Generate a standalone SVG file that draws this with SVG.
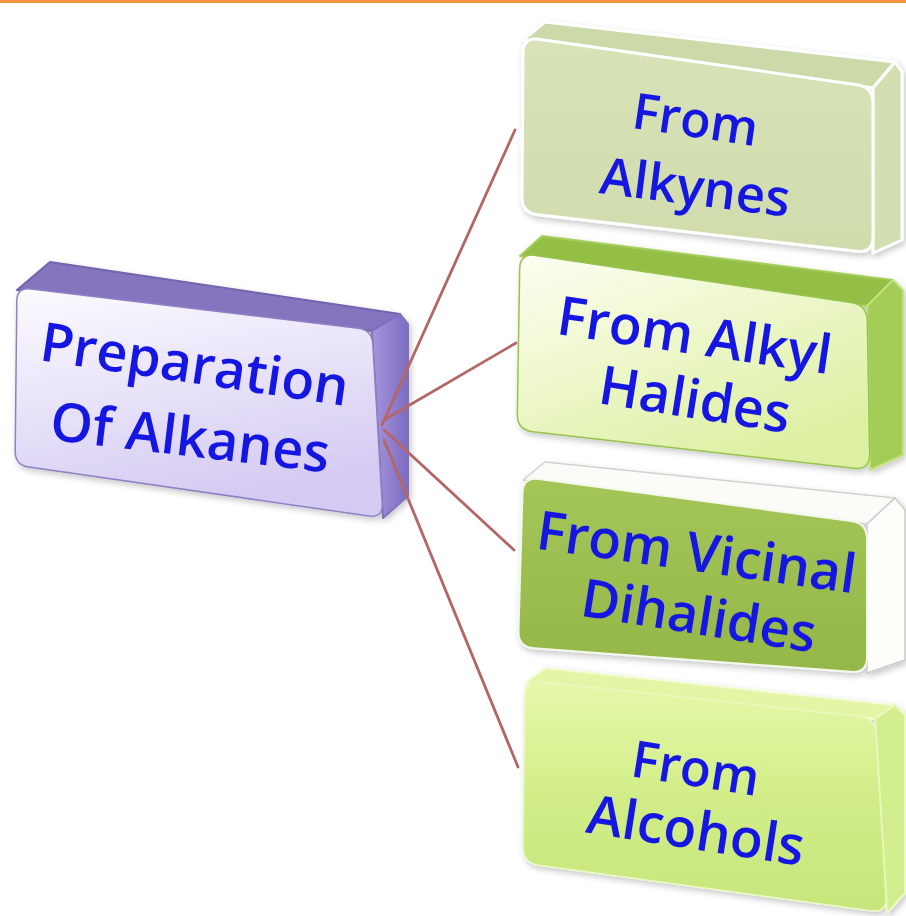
<svg xmlns="http://www.w3.org/2000/svg" width="906" height="916" viewBox="0 0 906 916">
<defs>
<style>
.t{font-family:"Open Sans","Liberation Sans",sans-serif;font-weight:600;fill:#1616e2;text-anchor:middle;}
.conn{stroke:#b46666;stroke-width:2.8;fill:none;stroke-linecap:round;}
.edge{stroke-linejoin:round;}
</style>
<filter id="sh" x="-10%" y="-10%" width="120%" height="130%">
<feDropShadow dx="2" dy="3" stdDeviation="3" flood-color="#000" flood-opacity="0.22"/>
</filter>
<linearGradient id="gC" x1="0" y1="0" x2="0.3" y2="1">
<stop offset="0" stop-color="#fcfbff"/><stop offset="1" stop-color="#d5cbf2"/>
</linearGradient>
<linearGradient id="gCs" x1="0" y1="0" x2="1" y2="0">
<stop offset="0" stop-color="#a596de"/><stop offset="1" stop-color="#7d6bc0"/>
</linearGradient>
<linearGradient id="g1" x1="0" y1="0" x2="0" y2="1">
<stop offset="0" stop-color="#d8e3b8"/><stop offset="1" stop-color="#d0dcac"/>
</linearGradient>
<linearGradient id="g2" x1="0" y1="0" x2="0.6" y2="1">
<stop offset="0" stop-color="#fdfef2"/><stop offset="1" stop-color="#ddf0a2"/>
</linearGradient>
<linearGradient id="g3" x1="0" y1="0" x2="0" y2="1">
<stop offset="0" stop-color="#a4c659"/><stop offset="1" stop-color="#95b748"/>
</linearGradient>
<linearGradient id="g4" x1="0" y1="0" x2="0" y2="1">
<stop offset="0" stop-color="#e6f8aa"/><stop offset="0.5" stop-color="#d2ed88"/><stop offset="1" stop-color="#c6e67b"/>
</linearGradient>
</defs>
<rect x="0" y="0" width="906" height="916" fill="#ffffff"/>
<rect x="0" y="0" width="906" height="3" fill="#f5943f"/>

<g id="node-center" filter="url(#sh)">
<polygon class="edge" points="17,290 50,262 400,314 372,331" fill="#8575be" stroke="#7464b0" stroke-width="2"/>
<polygon class="edge" points="372,331 400,314 408,324 408,496 383,518" fill="url(#gCs)" stroke="#8070bc" stroke-width="2"/>
<path d="M31,289 L358,328.3 Q372,330 372.8,344 L382.2,504 Q383,518 369,516 L29,467 Q15,465 15.2,451 L16.8,301 Q17,287 31,289 Z" fill="url(#gC)" stroke="#8f80c6" stroke-width="1.5"/>
<g transform="rotate(8.5 192 383)"><text class="t" x="192" y="383" font-size="54">Preparation</text></g>
<g transform="rotate(6.8 188 456)"><text class="t" x="188" y="456" font-size="54">Of Alkanes</text></g>
</g>

<g id="node-alkynes" filter="url(#sh)">
<polygon class="edge" points="523,40 545,22 895,62 873,88" fill="#ccd9a8" stroke="#ffffff" stroke-width="3"/>
<polygon class="edge" points="873,88 895,62 902,72 902,240 873,253" fill="#d3dfb1" stroke="#ffffff" stroke-width="3"/>
<path d="M539,39.3 L857,84.7 Q873,87 873,103 L873,237 Q873,253 857,251.2 L538,214.8 Q522,213 522,197 L523,53 Q523,37 539,39.3 Z" fill="url(#g1)" stroke="#ffffff" stroke-width="3"/>
<g transform="rotate(8.5 693 137)"><text class="t" x="693" y="137" font-size="50">From</text></g>
<g transform="rotate(7.2 693 205)"><text class="t" x="693" y="205" font-size="51">Alkynes</text></g>
</g>

<g id="node-alkyl-halides" filter="url(#sh)">
<polygon class="edge" points="520,256 542,236 893,280 867,306" fill="#94bf46" stroke="#a6cf5c" stroke-width="2"/>
<polygon class="edge" points="867,306 893,280 903,290 903,455 870,470" fill="#a3cd56" stroke="#c2e27e" stroke-width="2"/>
<path d="M536,255.4 L851,302.6 Q867,305 867.3,321 L869.7,454 Q870,470 854,468.2 L533,431.8 Q517,430 517.3,414 L519.7,269 Q520,253 536,255.4 Z" fill="url(#g2)" stroke="#98c24c" stroke-width="1.5"/>
<g transform="rotate(8.4 692 354)"><text class="t" x="692" y="354" font-size="54">From Alkyl</text></g>
<g transform="rotate(9 692 418)"><text class="t" x="692" y="418" font-size="54">Halides</text></g>
</g>

<g id="node-vicinal-dihalides" filter="url(#sh)">
<polygon class="edge" points="523,480 545,462 895,498 867,524" fill="#fbfbf7" stroke="#d2d2d2" stroke-width="1.5"/>
<polygon class="edge" points="867,524 895,498 905,510 905,660 867,673" fill="#fdfdfa" stroke="#cccccc" stroke-width="1.5"/>
<path d="M539,479.1 L851,520.9 Q867,523 867,539 L867,657 Q867,673 851,671.8 L534,648.2 Q518,647 518.5,631 L522.5,493 Q523,477 539,479.1 Z" fill="url(#g3)" stroke="#f4f8ea" stroke-width="2"/>
<g transform="rotate(8 694 571)"><text class="t" x="694" y="571" font-size="54">From Vicinal</text></g>
<g transform="rotate(9 696 634)"><text class="t" x="696" y="634" font-size="53">Dihalides</text></g>
</g>

<g id="node-alcohols" filter="url(#sh)">
<polygon class="edge" points="525,683 545,668 895,705 875,719" fill="#e2f6a6" stroke="#f4fbd6" stroke-width="2"/>
<polygon class="edge" points="875,719 895,705 905,715 905,893 887,913" fill="#d3ee8e" stroke="#eaf8c2" stroke-width="2"/>
<path d="M541,681.7 L859,716.3 Q875,718 876,734 L886,897 Q887,913 871,910.8 L539,865.2 Q523,863 523,847 L525,696 Q525,680 541,681.7 Z" fill="url(#g4)" stroke="#eaf8c0" stroke-width="1.5"/>
<g transform="rotate(9 693 786)"><text class="t" x="693" y="786" font-size="51">From</text></g>
<g transform="rotate(8.8 693 849)"><text class="t" x="693" y="849" font-size="54">Alcohols</text></g>
</g>

<g id="connectors">
<line class="conn" x1="382" y1="425" x2="515" y2="130"/>
<line class="conn" x1="384" y1="420" x2="516" y2="343"/>
<line class="conn" x1="384" y1="430" x2="514" y2="550"/>
<line class="conn" x1="384" y1="440" x2="518" y2="767"/>
</g>
</svg>
